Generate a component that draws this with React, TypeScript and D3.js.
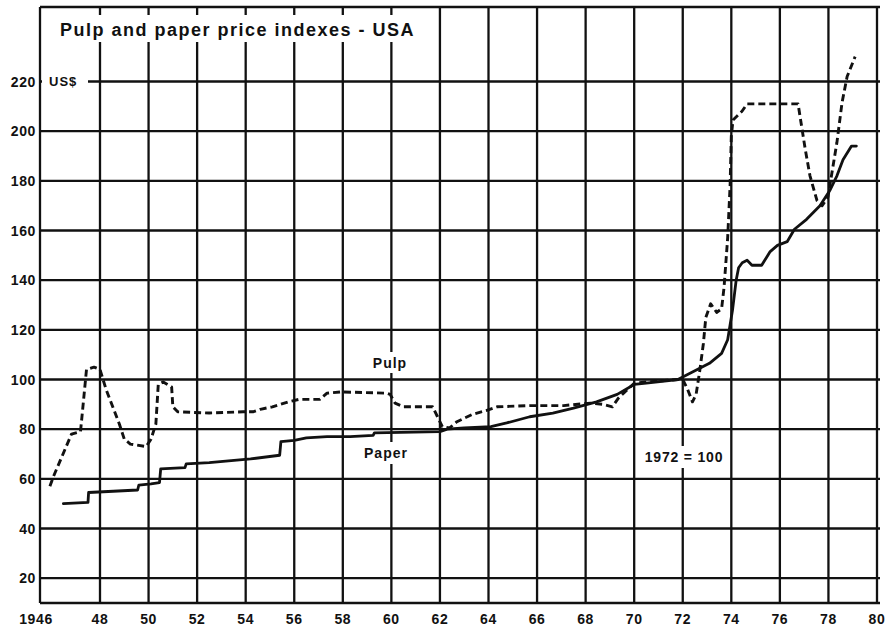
import React from "react";
import * as d3 from "d3";

const yearTicks = [1946, 1948, 1950, 1952, 1954, 1956, 1958, 1960, 1962, 1964, 1966, 1968, 1970, 1972, 1974, 1976, 1978, 1980];
const yearTickLabels = ["1946", "48", "50", "52", "54", "56", "58", "60", "62", "64", "66", "68", "70", "72", "74", "76", "78", "80"];
const valueTicks = [20, 40, 60, 80, 100, 120, 140, 160, 180, 200, 220];

const pulpYears = [
  1946.33, 1946.45, 1947.05, 1947.35, 1947.55, 1947.8, 1948.0, 1948.25, 1948.8, 1949.0,
  1949.25, 1949.9, 1950.1, 1950.3, 1950.4, 1950.6, 1950.95, 1951.0, 1951.2, 1952.5,
  1953.9, 1954.3, 1954.6, 1955.1, 1955.75, 1956.2, 1957.05, 1957.35, 1957.9, 1959.8,
  1959.95, 1960.15, 1960.5, 1961.7, 1961.9, 1962.1, 1962.4, 1962.7, 1963.35, 1963.9,
  1964.35, 1965.7, 1967.1, 1968.2, 1968.7, 1969.1, 1969.35, 1970.0, 1970.5, 1971.8,
  1972.0, 1972.2, 1972.4, 1972.55, 1972.7, 1972.85, 1972.95, 1973.15, 1973.4, 1973.6,
  1973.7, 1973.85, 1973.95, 1974.0, 1974.07, 1974.44, 1974.65, 1976.75, 1976.83, 1977.04,
  1977.24, 1977.53, 1977.74, 1977.98, 1978.19, 1978.35, 1978.56, 1978.77, 1979.1,
];
const pulpValues = [
  57, 61, 78, 79, 104, 105, 104, 96, 82, 76,
  74, 73, 76, 82, 98, 99, 97, 89, 87, 86.5,
  87, 87, 88, 89, 91, 92, 92, 94.5, 95, 94.5,
  94, 90.5, 89, 89, 85, 81, 80.5, 83, 86, 87.5,
  89, 89.5, 89.5, 90.5, 90, 89, 92.5, 98.5, 99, 100,
  100, 96, 91, 94, 103.5, 114.5, 125, 130.5, 127, 128.5,
  137, 157, 178, 198, 204.5, 208, 211, 211, 206, 193,
  182, 172, 170, 173.5, 186, 195.5, 211.5, 222, 230,
];

const paperYears = [
  1946.78, 1947.6, 1947.62, 1949.55, 1949.6, 1950.1, 1950.45, 1950.5, 1951.5, 1951.55,
  1952.5, 1954.2, 1955.4, 1955.45, 1956.0, 1956.5, 1957.35, 1958.3, 1959.25, 1959.3,
  1962.0, 1962.3, 1963.0, 1964.1, 1964.75, 1965.7, 1966.65, 1967.5, 1968.45, 1969.3,
  1970.0, 1970.5, 1971.8, 1972.2, 1972.8, 1973.1, 1973.6, 1973.85, 1974.05, 1974.2,
  1974.3, 1974.45, 1974.65, 1974.85, 1975.25, 1975.6, 1975.9, 1976.3, 1976.6, 1977.1,
  1977.65, 1978.05, 1978.35, 1978.6, 1978.95, 1979.15,
];
const paperValues = [
  50, 50.5, 54.5, 55.5, 57.5, 58, 58.5, 64, 64.5, 66,
  66.5, 68, 69.5, 75, 75.5, 76.5, 77, 77, 77.5, 78.5,
  79, 80, 80.5, 81, 82.5, 85, 86.5, 88.5, 91, 94,
  98, 98.5, 100, 102, 105, 106.5, 110.5, 116, 128, 140,
  145, 147, 148, 146, 146, 151.5, 154, 155.5, 160.5, 164.5,
  170, 176, 182, 188.5, 194, 194,
];

const titleText = "Pulp and paper price indexes - USA";
const unitText = "US$";
const pulpLabel = "Pulp";
const paperLabel = "Paper";
const baseLabel = "1972 = 100";

export default function App() {
  const W = 888;
  const H = 628;
  const x = d3.scaleLinear().domain([1946, 1948, 1980]).range([40, 100, 877]);
  const y = d3.scaleLinear().domain([10, 250]).range([603, 7]);
  const left = x(1946);
  const right = 880;
  const top = y(250);
  const bottom = y(10);

  const line = d3
    .line<[number, number]>()
    .x((d) => x(d[0]))
    .y((d) => y(d[1]))
    .curve(d3.curveLinear);

  const pulpPath = line(pulpYears.map((yr, i) => [yr, pulpValues[i]] as [number, number])) || "";
  const paperPath = line(paperYears.map((yr, i) => [yr, paperValues[i]] as [number, number])) || "";

  const ink = "#111";
  const font = "'Liberation Sans', Arial, Helvetica, sans-serif";

  return (
    <svg
      width={W}
      height={H}
      viewBox={`0 0 ${W} ${H}`}
      style={{ position: "absolute", left: 0, top: 0, background: "#fff" }}
    >
      <rect x={0} y={0} width={W} height={H} fill="#fff" />
      {/* grid */}
      <g stroke={ink} strokeWidth={2.3}>
        {valueTicks.map((v) => (
          <line key={"h" + v} x1={left} x2={right} y1={y(v)} y2={y(v)} />
        ))}
        {yearTicks.map((yr) => (
          <line key={"v" + yr} x1={x(yr)} x2={x(yr)} y1={top} y2={bottom} />
        ))}
        <line x1={left} x2={right} y1={top} y2={top} />
        <line x1={left} x2={right} y1={bottom} y2={bottom} />
      </g>

      {/* title box */}
      <rect x={left + 2} y={15} width={392} height={27} fill="#fff" />
      <text x={60} y={36} fontFamily={font} fontWeight="bold" fontSize={18} fill={ink} letterSpacing={1.5}>
        {titleText}
      </text>

      {/* unit label */}
      <rect x={left + 2} y={y(220) - 8} width={46} height={16} fill="#fff" />
      <text x={49} y={y(220)} dominantBaseline="central" fontFamily={font} fontWeight="bold" fontSize={13} letterSpacing={1} fill={ink}>
        {unitText}
      </text>

      {/* series */}
      <path d={paperPath} fill="none" stroke={ink} strokeWidth={2.8} strokeLinejoin="round" strokeLinecap="round" />
      <path
        d={pulpPath}
        fill="none"
        stroke={ink}
        strokeWidth={2.9}
        strokeDasharray="7,4"
        strokeLinejoin="round"
      />

      {/* annotations */}
      <rect x={366} y={352} width={48} height={21} fill="#fff" />
      <text x={390} y={363} textAnchor="middle" dominantBaseline="central" fontFamily={font} fontWeight="bold" fontSize={14} letterSpacing={1} fill={ink}>
        {pulpLabel}
      </text>
      <rect x={358} y={442} width={56} height={22} fill="#fff" />
      <text x={386} y={453} textAnchor="middle" dominantBaseline="central" fontFamily={font} fontWeight="bold" fontSize={14} letterSpacing={1} fill={ink}>
        {paperLabel}
      </text>
      <rect x={640} y={446} width={88} height={22} fill="#fff" />
      <text x={684} y={457} textAnchor="middle" dominantBaseline="central" fontFamily={font} fontWeight="bold" fontSize={14} letterSpacing={0.8} fill={ink}>
        {baseLabel}
      </text>

      {/* y tick labels */}
      {valueTicks.map((v) => (
        <text
          key={"yl" + v}
          x={36}
          y={y(v)}
          textAnchor="end"
          dominantBaseline="central"
          fontFamily={font}
          fontWeight="bold"
          fontSize={14}
          letterSpacing={0.6}
          fill={ink}
        >
          {v}
        </text>
      ))}

      {/* x tick labels */}
      {yearTicks.map((yr, i) => (
        <text
          key={"xl" + yr}
          x={i === 0 ? 36 : x(yr)}
          y={619}
          textAnchor="middle"
          dominantBaseline="central"
          fontFamily={font}
          fontWeight="bold"
          fontSize={14}
          letterSpacing={0.6}
          fill={ink}
        >
          {yearTickLabels[i]}
        </text>
      ))}
    </svg>
  );
}
